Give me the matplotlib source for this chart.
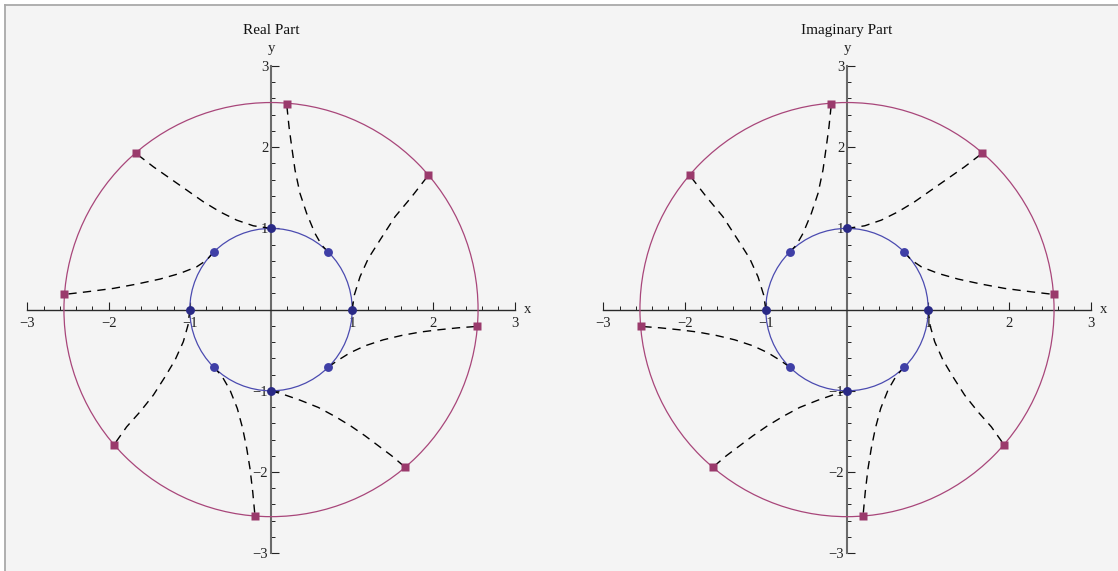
import matplotlib
matplotlib.use("Agg")
import matplotlib.pyplot as plt
from matplotlib.patches import Circle, Rectangle
from matplotlib.lines import Line2D
from matplotlib.ticker import FixedLocator, FixedFormatter

# ---------------- data ----------------
titles = ["Real Part", "Imaginary Part"]
tick_vals = [-3, -2, -1, 1, 2, 3]
tick_labels = ["\u22123", "\u22122", "\u22121", "1", "2", "3"]
minor_step = 0.2
inner_radius = 1.0
outer_radius = 2.55

inner_x = [1.0, 0.707, 0.0, -0.707, -1.0, -0.707, 0.0, 0.707]
inner_y = [0.0, 0.707, 1.0, 0.707, 0.0, -0.707, -1.0, -0.707]
on_axis = [True, False, True, False, True, False, True, False]

# Real part: dashed paths (inner point -> outer square)
real_paths_x = [
    [1.0, 1.026, 1.096, 1.199, 1.342, 1.527, 1.732, 1.937],
    [0.707, 0.624, 0.542, 0.439, 0.357, 0.296, 0.255, 0.222, 0.193],
    [0.0, -0.218, -0.423, -0.628, -0.833, -1.038, -1.244, -1.449, -1.663],
    [-0.707, -0.792, -0.915, -1.121, -1.367, -1.654, -1.942, -2.270, -2.545],
    [-1.0, -1.022, -1.080, -1.182, -1.305, -1.449, -1.613, -1.777, -1.937],
    [-0.707, -0.607, -0.505, -0.415, -0.349, -0.299, -0.259, -0.225, -0.197],
    [0.0, 0.132, 0.357, 0.583, 0.796, 0.985, 1.158, 1.322, 1.486, 1.654],
    [0.707, 0.809, 0.973, 1.158, 1.383, 1.610, 1.835, 2.060, 2.307, 2.537],
]
real_paths_y = [
    [0.0, 0.179, 0.404, 0.631, 0.856, 1.143, 1.389, 1.653],
    [0.707, 0.794, 0.938, 1.185, 1.431, 1.718, 2.005, 2.251, 2.531],
    [1.0, 1.032, 1.102, 1.204, 1.328, 1.472, 1.616, 1.759, 1.924],
    [0.707, 0.610, 0.527, 0.446, 0.376, 0.314, 0.261, 0.219, 0.187],
    [0.0, -0.191, -0.396, -0.622, -0.828, -1.053, -1.259, -1.443, -1.669],
    [-0.707, -0.815, -0.991, -1.217, -1.463, -1.709, -1.956, -2.244, -2.543],
    [-1.0, -1.037, -1.115, -1.205, -1.320, -1.435, -1.554, -1.677, -1.800, -1.943],
    [-0.707, -0.634, -0.532, -0.446, -0.372, -0.318, -0.277, -0.249, -0.224, -0.207],
]
real_outer_x = [1.937, 0.193, -1.663, -2.545, -1.937, -0.197, 1.654, 2.537]
real_outer_y = [1.653, 2.531, 1.924, 0.187, -1.669, -2.543, -1.943, -0.207]

# Imaginary part
imag_paths_x = [
    [-1.0, -1.026, -1.096, -1.199, -1.342, -1.527, -1.732, -1.937],
    [-0.707, -0.624, -0.542, -0.439, -0.357, -0.296, -0.255, -0.222, -0.193],
    [0.0, 0.218, 0.423, 0.628, 0.833, 1.038, 1.244, 1.449, 1.663],
    [0.707, 0.792, 0.915, 1.121, 1.367, 1.654, 1.942, 2.270, 2.545],
    [1.0, 1.022, 1.080, 1.182, 1.305, 1.449, 1.613, 1.777, 1.937],
    [0.707, 0.607, 0.505, 0.415, 0.349, 0.299, 0.259, 0.225, 0.197],
    [0.0, -0.132, -0.357, -0.583, -0.796, -0.985, -1.158, -1.322, -1.486, -1.654],
    [-0.707, -0.809, -0.973, -1.158, -1.383, -1.610, -1.835, -2.060, -2.307, -2.537],
]
imag_paths_y = [
    [0.0, 0.179, 0.404, 0.631, 0.856, 1.143, 1.389, 1.653],
    [0.707, 0.794, 0.938, 1.185, 1.431, 1.718, 2.005, 2.251, 2.531],
    [1.0, 1.032, 1.102, 1.204, 1.328, 1.472, 1.616, 1.759, 1.924],
    [0.707, 0.610, 0.527, 0.446, 0.376, 0.314, 0.261, 0.219, 0.187],
    [0.0, -0.191, -0.396, -0.622, -0.828, -1.053, -1.259, -1.443, -1.669],
    [-0.707, -0.815, -0.991, -1.217, -1.463, -1.709, -1.956, -2.244, -2.543],
    [-1.0, -1.037, -1.115, -1.205, -1.320, -1.435, -1.554, -1.677, -1.800, -1.943],
    [-0.707, -0.634, -0.532, -0.446, -0.372, -0.318, -0.277, -0.249, -0.224, -0.207],
]
imag_outer_x = [-1.937, -0.193, 1.663, 2.545, 1.937, 0.197, -1.654, -2.537]
imag_outer_y = [1.653, 2.531, 1.924, 0.187, -1.669, -2.543, -1.943, -0.207]

# ---------------- style ----------------
W, H = 1118, 571
plt.rcParams['font.family'] = ['Liberation Serif', 'DejaVu Serif']
BG = '#f4f4f4'
INNER_LINE = '#4b4bb0'
OUTER_LINE = '#a8467a'
DOT = '#3f3fa6'
DOT_DARK = '#2a2a86'
SQ = '#9a3a6c'

fig = plt.figure(figsize=(W / 100, H / 100), dpi=100)
fig.patch.set_facecolor('white')
fig.patches.append(Rectangle((5 / W, 0), 1, 1 - 5 / H, transform=fig.transFigure,
                             facecolor=BG, edgecolor='none', zorder=-10))
fig.lines.append(Line2D([4.5 / W, 1], [1 - 5 / H, 1 - 5 / H], transform=fig.transFigure,
                        color='#a9a9a9', lw=1.3))
fig.lines.append(Line2D([4.5 / W, 4.5 / W], [0, 1 - 5 / H], transform=fig.transFigure,
                        color='#a9a9a9', lw=1.3))

scale = 81.2  # px per unit
x0_px = [271, 847]
y0_px = 309.6
xlim = (-3.3, 3.3)
ylim = (-(H - y0_px) / scale, 3.3)

minor_ticks = [k * minor_step for k in range(-15, 16) if k % 5 != 0]

panels = [
    (titles[0], real_paths_x, real_paths_y, real_outer_x, real_outer_y),
    (titles[1], imag_paths_x, imag_paths_y, imag_outer_x, imag_outer_y),
]

for i, (title, px, py, ox, oy) in enumerate(panels):
    left = (x0_px[i] + xlim[0] * scale) / W
    width = (xlim[1] - xlim[0]) * scale / W
    top_px = y0_px - ylim[1] * scale
    height = (H - top_px) / H
    ax = fig.add_axes([left, 0.0, width, height])
    ax.set_facecolor('none')
    ax.set_xlim(*xlim)
    ax.set_ylim(*ylim)

    for s in ['top', 'right']:
        ax.spines[s].set_visible(False)
    ax.spines['left'].set_position('zero')
    ax.spines['bottom'].set_position('zero')
    ax.spines['left'].set_bounds(-3, 3)
    ax.spines['bottom'].set_bounds(-3, 3)
    ax.spines['left'].set_color('#6a6a6a')
    ax.spines['left'].set_linewidth(1.5)
    ax.spines['bottom'].set_color('#2a2a2a')
    ax.spines['bottom'].set_linewidth(1.0)

    for axis in (ax.xaxis, ax.yaxis):
        axis.set_major_locator(FixedLocator(tick_vals))
        axis.set_major_formatter(FixedFormatter(tick_labels))
        axis.set_minor_locator(FixedLocator(minor_ticks))
    ax.tick_params(which='major', direction='in', length=5.5, width=0.8,
                   color='#222222', labelsize=10.5, labelcolor='#222222')
    ax.tick_params(which='minor', direction='in', length=3.2, width=0.7, color='#222222')
    ax.tick_params(axis='x', which='major', pad=5)
    ax.tick_params(axis='y', which='major', pad=2)

    # circles
    ax.add_patch(Circle((0, 0), inner_radius, fill=False, ec=INNER_LINE, lw=0.9, zorder=3))
    ax.add_patch(Circle((0, 0), outer_radius, fill=False, ec=OUTER_LINE, lw=0.9, zorder=3))

    # dashed paths
    for xs, ys in zip(px, py):
        ax.plot(xs, ys, color='black', lw=1.0, dashes=(6.0, 4.5), zorder=4)

    # points
    for xx, yy, dark in zip(inner_x, inner_y, on_axis):
        ax.plot([xx], [yy], 'o', ms=6.4, color=DOT_DARK if dark else DOT,
                mec='none', zorder=6, clip_on=False)
    ax.plot(ox, oy, 's', ms=5.6, color=SQ, mec='none', zorder=6, clip_on=False)

    # labels
    ax.text(3.12, 0, 'x', ha='left', va='center', fontsize=10.5, color='#222222')
    ax.text(0, 3.13, 'y', ha='center', va='bottom', fontsize=10.5, color='#222222')
    ax.text(0, (y0_px - 30) / scale, title, ha='center', va='center', fontsize=11,
            color='#111111', clip_on=False)

fig.savefig('out.png', dpi=100, facecolor=fig.get_facecolor())
